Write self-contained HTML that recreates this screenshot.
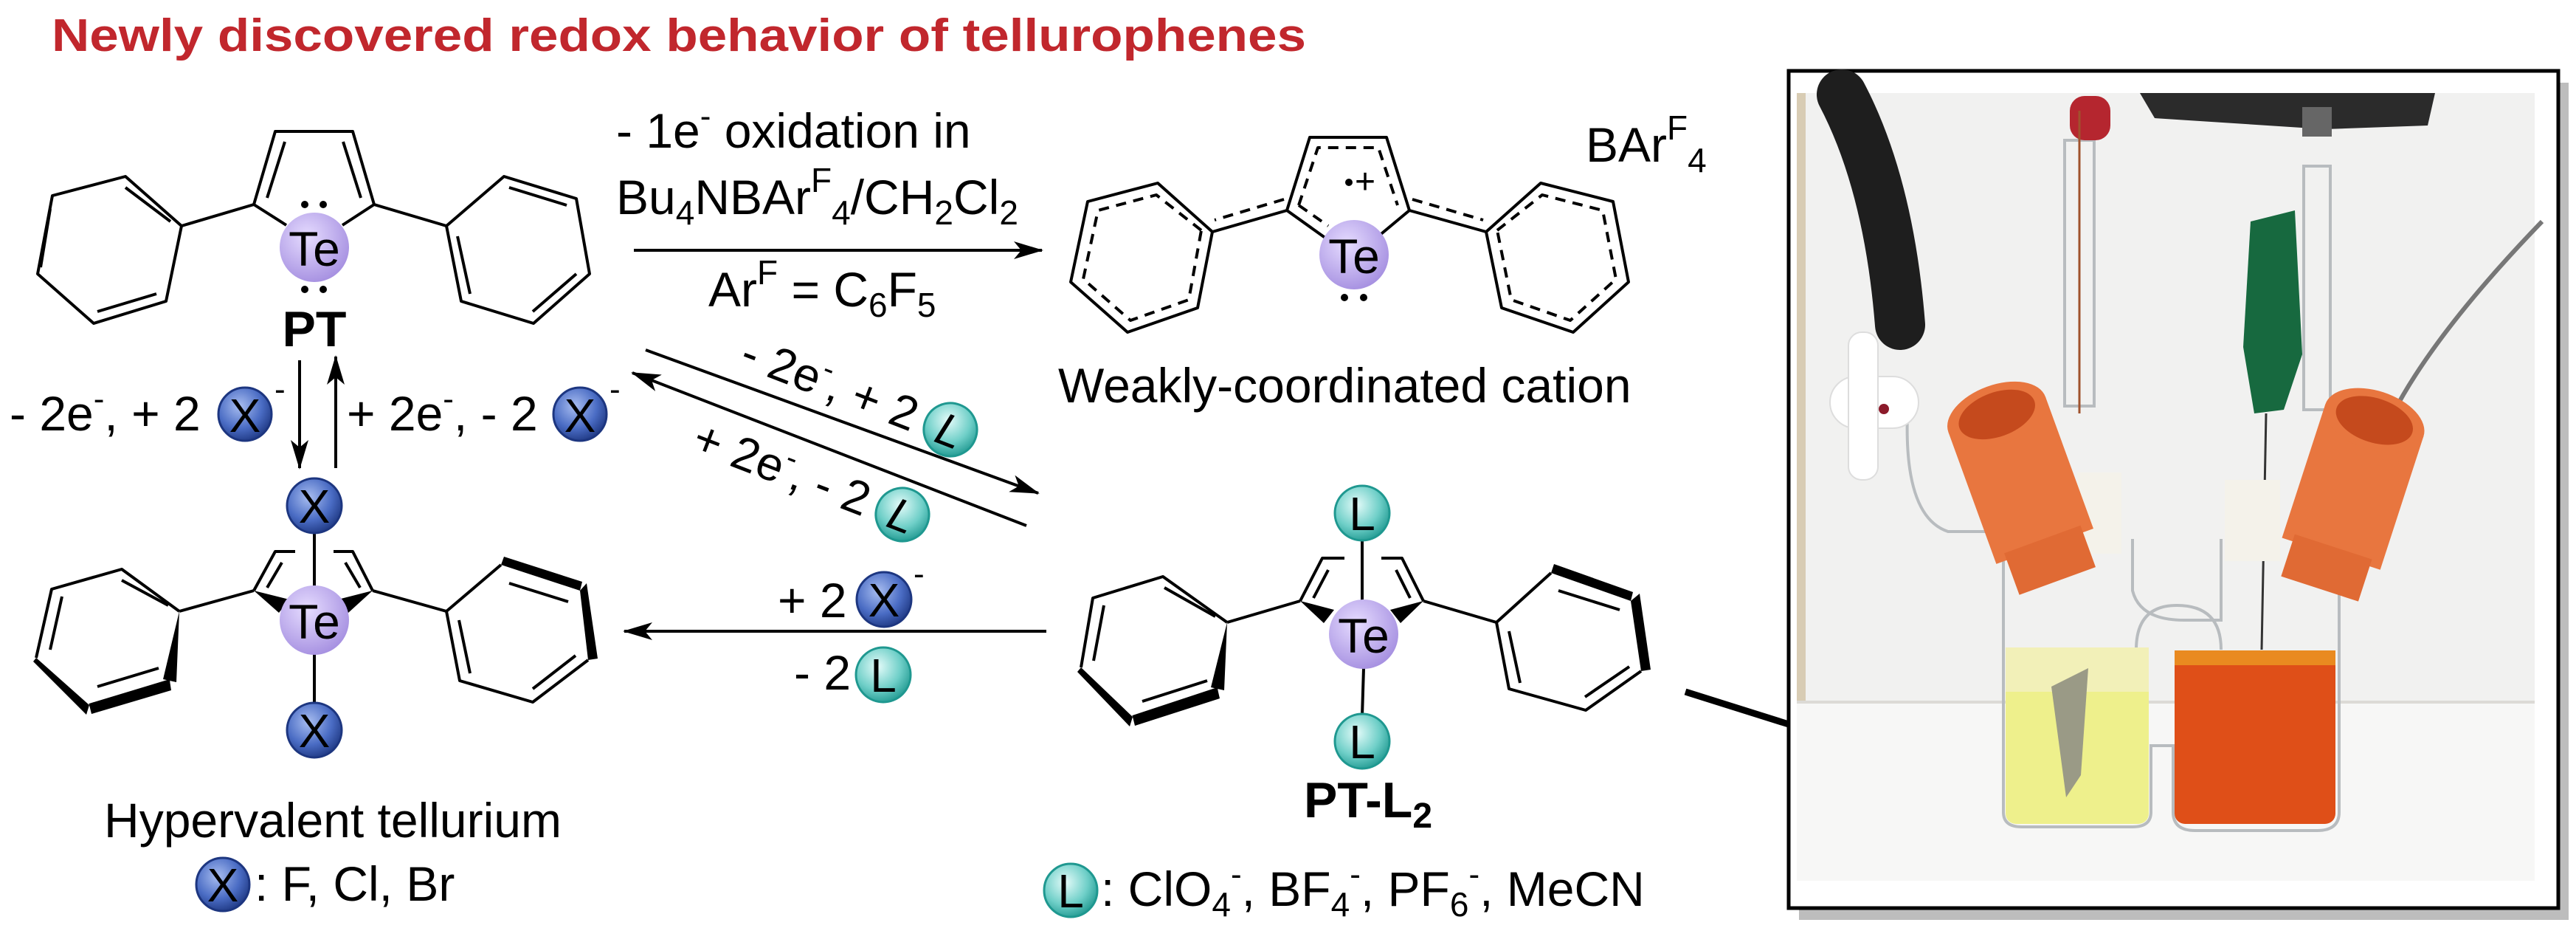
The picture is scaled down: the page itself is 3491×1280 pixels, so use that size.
<!DOCTYPE html>
<html><head><meta charset="utf-8"><style>
html,body{margin:0;padding:0;background:#fff;}
svg{display:block;}
text{font-family:"Liberation Sans",sans-serif;}
</style></head><body>
<svg width="3491" height="1280" viewBox="0 0 3491 1280" xmlns="http://www.w3.org/2000/svg">
<defs>
<radialGradient id="te" cx="40%" cy="35%" r="70%"><stop offset="0" stop-color="#e6dcff"/><stop offset="1" stop-color="#a48ee0"/></radialGradient>
<radialGradient id="xg" cx="40%" cy="35%" r="70%"><stop offset="0" stop-color="#a8bdf0"/><stop offset="0.6" stop-color="#4a6cc4"/><stop offset="1" stop-color="#1d3680"/></radialGradient>
<radialGradient id="lg" cx="40%" cy="35%" r="70%"><stop offset="0" stop-color="#e4fbf9"/><stop offset="0.6" stop-color="#6fcfc8"/><stop offset="1" stop-color="#1f9890"/></radialGradient>
<marker id="ah2" viewBox="0 0 40 24" markerWidth="40" markerHeight="24" refX="38" refY="12" orient="auto" markerUnits="userSpaceOnUse"><path d="M0,0 L40,12 L0,24 L10,12z" fill="#000"/></marker>
</defs>

<text x="70" y="69" font-size="62" font-weight="bold" fill="#c1272d" textLength="1700" lengthAdjust="spacingAndGlyphs">Newly discovered redox behavior of tellurophenes</text>

<g stroke="#000" stroke-width="4" fill="none" stroke-linejoin="round">
<path d="M344,277 L373,178 L478,178 L507,277"/>
<path d="M362,268 L386,192"/><path d="M489,268 L465,192"/>
<path d="M344,277 L388,305"/><path d="M507,277 L464,305"/>
<path d="M344,277 L246,306"/><path d="M507,277 L605,306"/>
<path d="M246,306 L170,239 L71,265 L51,371 L127,438 L225,408 L246,306"/>
<path d="M231,300 L170,254"/><path d="M68,283 L55,362"/><path d="M132,422 L212,398"/>
<path d="M605,306 L683,239 L781,269 L799,371 L723,438 L625,408 L605,306"/>
<path d="M690,254 L768,278"/><path d="M781,371 L722,422"/><path d="M620,320 L637,398"/>
</g>
<circle cx="426" cy="335" r="47" fill="url(#te)"/>
<text x="426" y="360" font-size="66" text-anchor="middle">Te</text>
<g fill="#000"><circle cx="413" cy="277" r="5"/><circle cx="438" cy="277" r="5"/><circle cx="413" cy="392" r="5"/><circle cx="438" cy="392" r="5"/></g>
<text x="426" y="469" font-size="68" font-weight="bold" text-anchor="middle">PT</text>

<line x1="406" y1="488" x2="406" y2="634" stroke="#000" stroke-width="4" marker-end="url(#ah2)"/>
<line x1="455" y1="634" x2="455" y2="483" stroke="#000" stroke-width="4" marker-end="url(#ah2)"/>
<text x="13" y="583" font-size="66">- 2e<tspan dy="-28" font-size="44">-</tspan><tspan dy="28">, + 2</tspan></text>
<circle cx="332" cy="561" r="36" fill="url(#xg)" stroke="#1d3680" stroke-width="3"/>
<text x="332" y="585" font-size="64" text-anchor="middle">X</text>
<text x="372" y="542" font-size="44">-</text>
<text x="470" y="583" font-size="66">+ 2e<tspan dy="-28" font-size="44">-</tspan><tspan dy="28">, - 2</tspan></text>
<circle cx="786" cy="561" r="36" fill="url(#xg)" stroke="#1d3680" stroke-width="3"/>
<text x="786" y="585" font-size="64" text-anchor="middle">X</text>
<text x="826" y="542" font-size="44">-</text>

<g stroke="#000" stroke-width="4" fill="none" stroke-linejoin="round">
<path d="M344,800 L373,747 L400,747"/><path d="M452,747 L478,747 L505,800"/>
<path d="M362,796 L382,762"/><path d="M488,796 L468,762"/>
<path d="M344,800 L243,828"/><path d="M505,800 L605,828"/>
<line x1="426" y1="720" x2="426" y2="795"/><line x1="426" y1="885" x2="426" y2="955"/>
<path d="M243,828 L165,771 L70,798 L49,891"/>
<path d="M230,922 L121,955"/>
<path d="M228,820 L165,786"/><path d="M84,808 L68,880"/><path d="M132,930 L215,905"/>
<path d="M605,828 L623,922 L722,951 L797,894"/>
<path d="M679,765 L605,828"/>
<path d="M622,840 L637,912"/><path d="M722,933 L780,888"/><path d="M690,790 L770,815"/>
</g>
<g fill="#000">
<polygon points="344,800 392,812 378,830"/>
<polygon points="505,800 458,812 472,830"/>
<polygon points="243,828 221,920 239,924"/>
<polygon points="230,922 121,955 124,967 232,935"/>
<polygon points="49,891 121,955 117,968 45,896"/>
<polygon points="679,765 786,800 789,788 683,754"/>
<polygon points="786,800 797,894 810,892 795,790"/>
</g>
<circle cx="426" cy="685" r="37" fill="url(#xg)" stroke="#1d3680" stroke-width="3"/>
<text x="426" y="708" font-size="64" text-anchor="middle">X</text>
<circle cx="426" cy="840" r="47" fill="url(#te)"/>
<text x="426" y="865" font-size="66" text-anchor="middle">Te</text>
<circle cx="426" cy="989" r="37" fill="url(#xg)" stroke="#1d3680" stroke-width="3"/>
<text x="426" y="1012" font-size="64" text-anchor="middle">X</text>
<text x="451" y="1134" font-size="66" text-anchor="middle">Hypervalent tellurium</text>
<circle cx="302" cy="1198" r="36" fill="url(#xg)" stroke="#1d3680" stroke-width="3"/>
<text x="302" y="1221" font-size="64" text-anchor="middle">X</text>
<text x="345" y="1220" font-size="66">: F, Cl, Br</text>

<line x1="859" y1="339" x2="1412" y2="339" stroke="#000" stroke-width="4" marker-end="url(#ah2)"/>
<text x="835" y="200" font-size="66">- 1e<tspan dy="-28" font-size="44">-</tspan><tspan dy="28"> oxidation in</tspan></text>
<text x="835" y="290" font-size="66">Bu<tspan dy="14" font-size="46">4</tspan><tspan dy="-14">NBAr</tspan><tspan dy="-30" font-size="46">F</tspan><tspan dy="44" font-size="46">4</tspan><tspan dy="-14">/CH</tspan><tspan dy="14" font-size="46">2</tspan><tspan dy="-14">Cl</tspan><tspan dy="14" font-size="46">2</tspan></text>
<text x="960" y="415" font-size="66">Ar<tspan dy="-30" font-size="46">F</tspan><tspan dy="30"> = C</tspan><tspan dy="14" font-size="46">6</tspan><tspan dy="-14">F</tspan><tspan dy="14" font-size="46">5</tspan></text>

<line x1="875" y1="474" x2="1407" y2="668" stroke="#000" stroke-width="4" marker-end="url(#ah2)"/>
<line x1="1391" y1="712" x2="857" y2="505" stroke="#000" stroke-width="4" marker-end="url(#ah2)"/>
<g transform="translate(1000,495) rotate(21)">
<text x="0" y="0" font-size="64">- 2e<tspan dy="-26" font-size="42">-</tspan><tspan dy="26">, + 2</tspan></text>
<circle cx="300" cy="-22" r="36" fill="url(#lg)" stroke="#1f9890" stroke-width="3"/>
<text x="300" y="1" font-size="62" text-anchor="middle" font-style="italic">L</text>
</g>
<g transform="translate(935,610) rotate(21)">
<text x="0" y="0" font-size="64">+ 2e<tspan dy="-26" font-size="42">-</tspan><tspan dy="26">, - 2</tspan></text>
<circle cx="300" cy="-22" r="36" fill="url(#lg)" stroke="#1f9890" stroke-width="3"/>
<text x="300" y="1" font-size="62" text-anchor="middle" font-style="italic">L</text>
</g>

<line x1="1418" y1="855" x2="846" y2="855" stroke="#000" stroke-width="4" marker-end="url(#ah2)"/>
<text x="1054" y="836" font-size="66">+ 2</text>
<circle cx="1198" cy="812" r="37" fill="url(#xg)" stroke="#1d3680" stroke-width="3"/>
<text x="1198" y="835" font-size="64" text-anchor="middle">X</text>
<text x="1238" y="792" font-size="44">-</text>
<text x="1076" y="934" font-size="66">- 2</text>
<circle cx="1197" cy="914" r="37" fill="url(#lg)" stroke="#1f9890" stroke-width="3"/>
<text x="1197" y="937" font-size="64" text-anchor="middle">L</text>

<g stroke="#000" stroke-width="4" fill="none" stroke-linejoin="round">
<path d="M1744,285 L1775,186 L1879,186 L1910,285"/>
<path d="M1744,285 L1800,325"/><path d="M1910,285 L1868,320"/>
<path d="M1760,278 L1786,200 L1868,200 L1894,278 M1760,278 L1800,306" stroke-dasharray="14,10"/>
<path d="M1744,285 L1643,314"/><path d="M1910,285 L2014,314"/>
<path d="M1740,270 L1646,298 M1914,270 L2010,298" stroke-dasharray="14,10"/>
<path d="M1643,314 L1569,248 L1474,273 L1451,382 L1528,450 L1623,417 Z"/>
<path d="M1628,312 L1567,264 L1488,285 L1468,378 L1532,434 L1611,406 Z" stroke-dasharray="14,10"/>
<path d="M2014,314 L2088,248 L2186,273 L2207,382 L2132,450 L2035,417 Z"/>
<path d="M2029,312 L2090,264 L2172,285 L2190,378 L2128,434 L2048,406 Z" stroke-dasharray="14,10"/>
</g>
<circle cx="1835" cy="345" r="47" fill="url(#te)"/>
<text x="1835" y="370" font-size="66" text-anchor="middle">Te</text>
<circle cx="1828" cy="247" r="5" fill="#000"/>
<text x="1850" y="262" font-size="48" text-anchor="middle">+</text>
<circle cx="1822" cy="403" r="5" fill="#000"/><circle cx="1848" cy="403" r="5" fill="#000"/>
<text x="2149" y="219" font-size="66">BAr<tspan dy="-30" font-size="46">F</tspan><tspan dy="44" font-size="46">4</tspan></text>
<text x="1434" y="545" font-size="66">Weakly-coordinated cation</text>

<g stroke="#000" stroke-width="4" fill="none" stroke-linejoin="round">
<path d="M1762,814 L1792,756 L1822,756"/><path d="M1872,756 L1900,756 L1929,814"/>
<path d="M1780,810 L1800,772"/><path d="M1911,810 L1892,772"/>
<line x1="1846" y1="730" x2="1846" y2="815"/><line x1="1848" y1="905" x2="1846" y2="970"/>
<path d="M1762,814 L1663,843"/><path d="M1929,814 L2028,843"/>
<path d="M1663,843 L1576,781 L1481,810 L1465,904"/>
<path d="M1650,933 L1535,971"/>
<path d="M1647,835 L1578,796"/><path d="M1496,820 L1482,895"/><path d="M1548,950 L1636,922"/>
<path d="M2028,843 L2045,933 L2149,962 L2224,909"/>
<path d="M2102,776 L2028,843"/>
<path d="M2045,855 L2060,925"/><path d="M2148,944 L2208,903"/><path d="M2112,800 L2195,826"/>
</g>
<g fill="#000">
<polygon points="1762,814 1808,826 1794,844"/>
<polygon points="1929,814 1884,826 1898,844"/>
<polygon points="1663,843 1641,931 1659,935"/>
<polygon points="1650,933 1535,971 1538,983 1653,946"/>
<polygon points="1465,904 1535,971 1531,984 1460,910"/>
<polygon points="2102,776 2210,814 2213,802 2106,764"/>
<polygon points="2210,814 2224,909 2237,907 2222,804"/>
</g>
<circle cx="1846" cy="695" r="37" fill="url(#lg)" stroke="#1f9890" stroke-width="3"/>
<text x="1846" y="718" font-size="64" text-anchor="middle">L</text>
<circle cx="1848" cy="859" r="47" fill="url(#te)"/>
<text x="1848" y="884" font-size="66" text-anchor="middle">Te</text>
<circle cx="1846" cy="1004" r="37" fill="url(#lg)" stroke="#1f9890" stroke-width="3"/>
<text x="1846" y="1027" font-size="64" text-anchor="middle">L</text>
<text x="1767" y="1107" font-size="68" font-weight="bold">PT-L<tspan dy="14" font-size="48">2</tspan></text>
<circle cx="1451" cy="1206" r="36" fill="url(#lg)" stroke="#1f9890" stroke-width="3"/>
<text x="1451" y="1229" font-size="64" text-anchor="middle">L</text>
<text x="1492" y="1227" font-size="66">: ClO<tspan dy="14" font-size="46">4</tspan><tspan dy="-42" font-size="44">-</tspan><tspan dy="28">, BF</tspan><tspan dy="14" font-size="46">4</tspan><tspan dy="-42" font-size="44">-</tspan><tspan dy="28">, PF</tspan><tspan dy="14" font-size="46">6</tspan><tspan dy="-42" font-size="44">-</tspan><tspan dy="28">, MeCN</tspan></text>

<line x1="2284" y1="937" x2="2424" y2="981" stroke="#000" stroke-width="9"/>

<rect x="2438" y="112" width="1043" height="1134" fill="#bdbdbd"/>
<rect x="2424" y="96" width="1043" height="1134" fill="#fff" stroke="#000" stroke-width="5"/>
<g>
<rect x="2435" y="126" width="1000" height="1067" fill="#f1f1f0"/>
<rect x="2435" y="126" width="12" height="825" fill="#d8ccb4"/>
<rect x="2435" y="951" width="1000" height="242" fill="#f7f7f6"/>
<line x1="2435" y1="951" x2="3435" y2="951" stroke="#dcdad6" stroke-width="4"/>
<g fill="none" stroke="#b8bcbf" stroke-width="4">
<rect x="2798" y="190" width="40" height="360"/>
<rect x="3122" y="225" width="36" height="330"/>
<path d="M2585,560 Q2580,700 2640,720 L2720,720"/>
<path d="M2715,760 L2715,1100 Q2715,1120 2740,1120 L2890,1120 Q2915,1120 2915,1100 L2915,1010 L2945,1010 L2945,1100 Q2945,1125 2975,1125 L3140,1125 Q3170,1125 3170,1100 L3170,760"/>
<path d="M2890,730 L2890,800 Q2900,840 2960,840 L3010,840 L3010,730"/>
<path d="M2895,880 Q2895,820 2950,820 Q3010,820 3010,880"/>
</g>
<path d="M2496,128 Q2560,250 2575,440" stroke="#1e1e1e" stroke-width="68" fill="none" stroke-linecap="round"/>
<path d="M2900,126 L3300,126 L3290,170 L3150,175 L2920,160 Z" fill="#2b2b2b"/>
<rect x="2805" y="130" width="55" height="60" rx="20" fill="#b5262f"/>
<rect x="3120" y="145" width="40" height="40" fill="#666"/>
<path d="M3050,300 L3110,285 L3120,480 L3095,555 L3055,560 L3040,470 Z" fill="#17693f"/>
<line x1="3071" y1="560" x2="3065" y2="880" stroke="#333" stroke-width="3"/>
<path d="M3445,300 Q3300,450 3243,560" stroke="#777" stroke-width="6" fill="none"/>
<line x1="2818" y1="150" x2="2818" y2="560" stroke="#a0522d" stroke-width="3"/>
<rect x="2480" y="510" width="120" height="70" rx="35" fill="#fff" stroke="#ddd" stroke-width="2"/>
<rect x="2505" y="450" width="40" height="200" rx="18" fill="#fff" stroke="#ddd" stroke-width="2"/>
<circle cx="2553" cy="554" r="7" fill="#8b1a2a"/>
<rect x="2815" y="640" width="60" height="110" fill="#f4f2ea"/>
<rect x="3015" y="650" width="75" height="110" fill="#f4f2ea"/>
<rect x="2718" y="877" width="194" height="239" rx="14" fill="#eef08c"/>
<rect x="2718" y="877" width="194" height="60" fill="#f2f0b8"/>
<polygon points="2780,930 2830,905 2820,1050 2800,1080" fill="#9a9a86"/>
<rect x="2947" y="881" width="218" height="235" rx="14" fill="#df4f18"/>
<rect x="2947" y="881" width="218" height="20" fill="#e98a20"/>
<g transform="translate(2737,646) rotate(-20)">
<rect x="-70" y="-90" width="140" height="190" fill="#e8763f"/>
<rect x="-55" y="90" width="110" height="60" fill="#e06a34"/>
<ellipse cx="0" cy="-90" rx="70" ry="40" fill="#e8763f"/>
<ellipse cx="0" cy="-90" rx="54" ry="30" fill="#c54a1d"/>
</g>
<g transform="translate(3190,655) rotate(18)">
<rect x="-70" y="-90" width="140" height="190" fill="#e8763f"/>
<rect x="-55" y="90" width="110" height="60" fill="#e06a34"/>
<ellipse cx="0" cy="-90" rx="70" ry="40" fill="#e8763f"/>
<ellipse cx="0" cy="-90" rx="54" ry="30" fill="#c54a1d"/>
</g>
</g>
</svg>
</body></html>
